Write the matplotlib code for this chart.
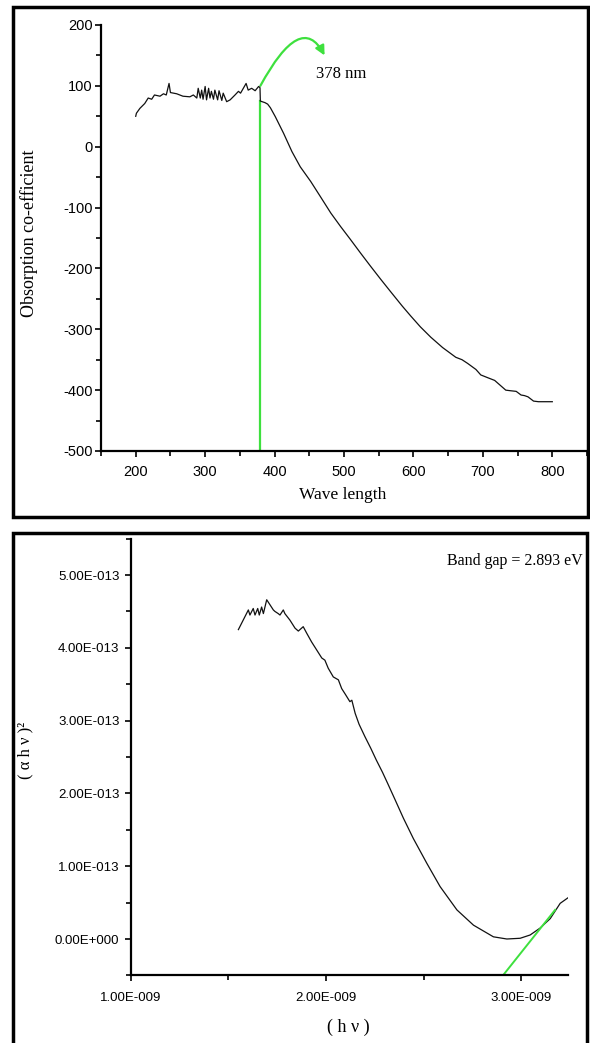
import matplotlib
matplotlib.use("Agg")
import matplotlib.pyplot as plt
from matplotlib.patches import Rectangle, FancyArrowPatch
from matplotlib.path import Path

plt.rcParams["axes.unicode_minus"] = False

# ---------------- data: top panel (absorption vs wavelength) ----------------
wl_noisy = [200, 201, 206, 213, 218, 223, 227, 235, 240, 244, 248, 250, 259, 268,
            278, 283, 288, 290, 293, 295, 297, 300, 302, 305, 307, 309, 312, 314,
            318, 320, 324, 326, 331, 336, 343, 348, 351, 355, 359, 362, 367, 372,
            377, 379]
abs_noisy = [50, 55, 63, 71, 80, 78, 85, 83, 87, 85, 104, 89, 87, 83,
             82, 85, 80, 96, 80, 93, 78, 99, 77, 96, 80, 91, 78, 93,
             77, 92, 76, 88, 74, 77, 85, 91, 88, 96, 104, 93, 96, 92,
             99, 97]
wl_smooth = [379.5, 382, 386, 390, 394, 401, 413, 425, 437, 452, 466, 481, 495, 509,
             524, 538, 553, 567, 584, 596, 610, 625, 642, 661, 670, 678,
             690, 697, 708, 717, 725, 733, 740, 748, 755, 760, 765, 773, 780, 790, 800]
abs_smooth = [75, 74, 72.5, 70, 64, 49.5, 22, -8, -33, -57, -82, -109, -131, -152,
              -175, -196, -218, -238, -262, -278, -296, -313, -330, -346, -350, -356,
              -366, -375, -380, -384, -392, -400, -401, -402, -408, -409, -411, -418, -419, -419, -419]
edge_wl = 379.5
edge_label = "378 nm"

# ---------------- data: bottom panel (Tauc plot), x in 1e-9, y in 1e-13 ----------------
hv = [1.552, 1.603, 1.611, 1.628, 1.637, 1.651, 1.659, 1.671, 1.680, 1.697, 1.714,
      1.731, 1.739, 1.756, 1.765, 1.782, 1.790, 1.816, 1.842, 1.859, 1.884, 1.902,
      1.927, 1.953, 1.979, 1.995, 2.012, 2.038, 2.064, 2.081, 2.100, 2.123, 2.133,
      2.150, 2.170, 2.200, 2.230, 2.258, 2.290, 2.316, 2.355, 2.397, 2.448, 2.517,
      2.585, 2.671, 2.756, 2.858, 2.927, 2.995, 3.046, 3.097, 3.149, 3.200, 3.242]
ahv2 = [4.25, 4.52, 4.45, 4.54, 4.45, 4.54, 4.45, 4.56, 4.47, 4.66, 4.59,
        4.52, 4.50, 4.47, 4.45, 4.52, 4.47, 4.38, 4.27, 4.23, 4.29, 4.20,
        4.08, 3.97, 3.86, 3.83, 3.72, 3.60, 3.56, 3.44, 3.36, 3.26, 3.28,
        3.10, 2.95, 2.78, 2.62, 2.46, 2.29, 2.14, 1.91, 1.66, 1.38, 1.04,
        0.72, 0.40, 0.19, 0.03, 0.0, 0.01, 0.055, 0.15, 0.28, 0.49, 0.57]
tangent_hv = [2.907, 3.174]
tangent_y = [-0.50, 0.40]
band_gap_text = "Band gap = 2.893 eV"

hv_s = [v * 1e-9 for v in hv]
ahv2_s = [v * 1e-13 for v in ahv2]
tangent_hv_s = [v * 1e-9 for v in tangent_hv]
tangent_y_s = [v * 1e-13 for v in tangent_y]

GREEN = "#3ee03e"
W, H = 590, 1043
fig = plt.figure(figsize=(W / 100, H / 100), dpi=100)
fig.patch.set_facecolor("white")

SERIF = ["Liberation Serif", "DejaVu Serif"]
SANS = ["Liberation Sans", "DejaVu Sans"]


def px_rect(x0, y0, x1, y1):
    return [x0 / W, 1 - y1 / H, (x1 - x0) / W, (y1 - y0) / H]


def style_axes(ax, fs):
    for s in ["top", "right"]:
        ax.spines[s].set_visible(False)
    for s in ["left", "bottom"]:
        ax.spines[s].set_linewidth(1.6)
    ax.tick_params(which="major", direction="out", length=4, width=1.2, labelsize=fs)
    ax.tick_params(which="minor", direction="out", length=3.5, width=1.2)
    for lab in ax.get_xticklabels() + ax.get_yticklabels():
        lab.set_family(SANS)


# frames
fig.patches.append(Rectangle((13 / W, 1 - 517 / H), 575 / W, 510 / H, transform=fig.transFigure,
                             fill=False, lw=2.5, ec="black"))
fig.patches.append(Rectangle((13 / W, 1 - 1046 / H), 574 / W, 513 / H, transform=fig.transFigure,
                             fill=False, lw=2.5, ec="black"))

# ---------------- top axes ----------------
ax1 = fig.add_axes(px_rect(101, 25, 587, 451))
ax1.plot(wl_noisy + wl_smooth, abs_noisy + abs_smooth, color="#111111", lw=0.9)
ax1.plot([edge_wl, edge_wl], [-500, abs_smooth[0]], color=GREEN, lw=1.6, zorder=1)
ax1.set_xlim(150, 850)
ax1.set_ylim(-500, 200)
ax1.set_xticks([200, 300, 400, 500, 600, 700, 800])
ax1.set_xticks([150, 250, 350, 450, 550, 650, 750, 850], minor=True)
ax1.set_yticks([-500, -400, -300, -200, -100, 0, 100, 200])
ax1.set_yticks([-450, -350, -250, -150, -50, 50, 150], minor=True)
style_axes(ax1, 10.5)
ax1.tick_params(axis="x", pad=6)
ax1.tick_params(axis="y", pad=2)
ax1.set_xlabel("Wave length", family=SERIF, fontsize=12.5)
ax1.set_ylabel("Obsorption co-efficient", family=SERIF, fontsize=13)
ax1.xaxis.set_label_coords(0.498, -0.085)
ax1.yaxis.set_label_coords(-0.13, 0.512)

# curved arrow annotation
arrow_path = Path([(edge_wl, 100), (438, 223), (472, 150)], [Path.MOVETO, Path.CURVE3, Path.CURVE3])
arr = FancyArrowPatch(path=arrow_path, arrowstyle="-|>", mutation_scale=14,
                      color=GREEN, lw=1.6, transform=ax1.transData)
ax1.add_patch(arr)
ax1.text(496, 120, edge_label, family=SERIF, fontsize=12, ha="center", va="center")

# ---------------- bottom axes ----------------
ax2 = fig.add_axes(px_rect(130.6, 538.6, 568, 975.4))
ax2.plot(hv_s, ahv2_s, color="#111111", lw=0.9)
ax2.plot(tangent_hv_s, tangent_y_s, color=GREEN, lw=1.4)
ax2.set_xlim(1.0e-9, 3.24e-9)
ax2.set_ylim(-0.5e-13, 5.5e-13)
ax2.set_xticks([1e-9, 2e-9, 3e-9])
ax2.set_xticklabels(["1.00E-009", "2.00E-009", "3.00E-009"])
ax2.set_xticks([1.5e-9, 2.5e-9], minor=True)
ax2.set_yticks([0, 1e-13, 2e-13, 3e-13, 4e-13, 5e-13])
ax2.set_yticklabels(["0.00E+000", "1.00E-013", "2.00E-013", "3.00E-013", "4.00E-013", "5.00E-013"])
ax2.set_yticks([-0.5e-13, 0.5e-13, 1.5e-13, 2.5e-13, 3.5e-13, 4.5e-13, 5.5e-13], minor=True)
style_axes(ax2, 9.5)
ax2.tick_params(axis="x", pad=8)
ax2.tick_params(axis="y", pad=4)
ax2.set_xlabel("( h ν )", family=SERIF, fontsize=13)
ax2.set_ylabel("( α h ν )²", family=SERIF, fontsize=12)
ax2.xaxis.set_label_coords(0.497, -0.10)
ax2.yaxis.set_label_coords(-0.222, 0.516)
fig.text(583 / W, 1 - 561 / H, band_gap_text, family=SERIF, fontsize=11.5, ha="right", va="center")

fig.savefig("out.png", dpi=100, facecolor="white")
